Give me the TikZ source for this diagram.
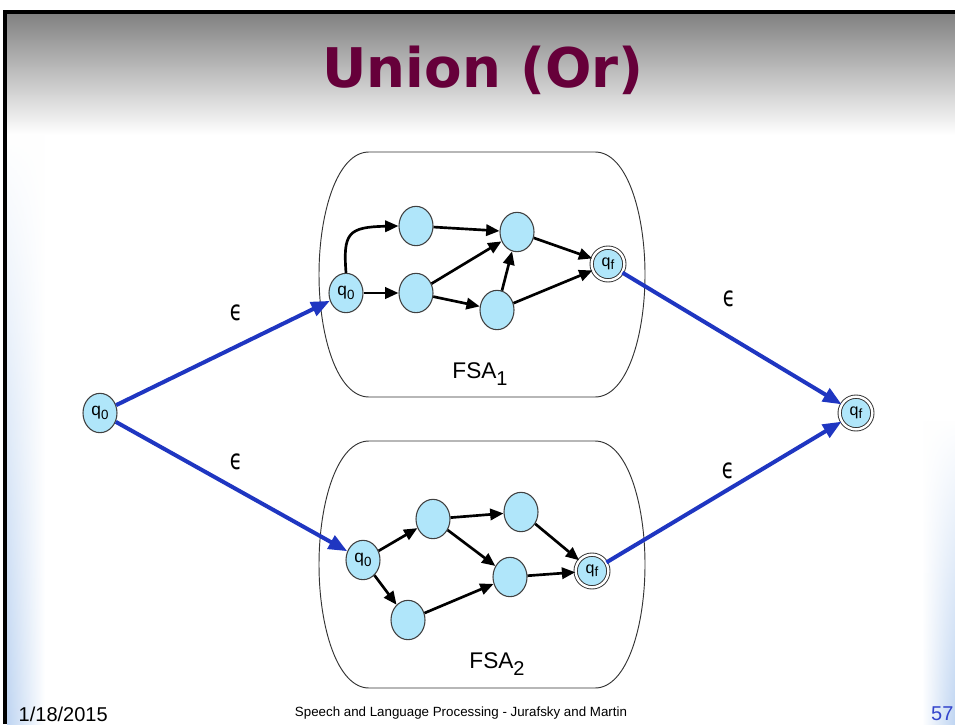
\documentclass[tikz,border=0pt]{standalone}
\usepackage{fontspec}
\setmainfont{Liberation Sans}
\newfontfamily\djv{DejaVu Sans}
\usetikzlibrary{arrows.meta,shapes.geometric,fadings}
\definecolor{nodefill}{HTML}{B0E6FA}
\definecolor{blueedge}{HTML}{1F36C1}
\definecolor{titlecol}{HTML}{66003A}
\definecolor{lbl}{HTML}{BFD5F2}
\definecolor{pgnum}{HTML}{3344CC}
\newcommand{\qlab}[1]{q\raisebox{-2.5pt}{\fontsize{10}{10}\selectfont #1}}
\newcommand{\fsalab}[1]{FSA\raisebox{-5pt}{\fontsize{15}{15}\selectfont #1}}
\tikzset{
  st/.style={ellipse, draw=black!75, fill=nodefill, line width=0.8pt,
    minimum width=25.5pt, minimum height=29.5pt, inner sep=0pt,
    font=\fontsize{13}{13}\selectfont},
  fin/.style={circle, draw=black!80, double=white, double distance=1.8pt,
    fill=nodefill, line width=0.7pt, minimum size=24.5pt, inner sep=0pt,
    font=\fontsize{12}{12}\selectfont},
  blk/.style={line width=2pt, -{Triangle[length=10pt,width=8.5pt]}},
  blu/.style={line width=3pt, blueedge, -{Triangle[length=14pt,width=11pt]}},
  eps/.style={font=\djv\fontsize{21}{21}\selectfont},
  fsalbl/.style={font=\fontsize{17}{17}\selectfont},
  box/.style={draw=black!80, line width=0.7pt}
}
% left, right, top, bottom; sides are half ellipses of horizontal radius 48
\newcommand{\fsabox}[4]{%
  \draw[box] ({#1+50},#3) -- ({#2-50},#3)
    .. controls ({#2-50+32},#3) and (#2,{#3+0.25*(#4-#3)}) .. (#2,{(#3+#4)/2})
    .. controls (#2,{#4-0.25*(#4-#3)}) and ({#2-50+32},#4) .. ({#2-50},#4)
    -- ({#1+50},#4)
    .. controls ({#1+50-32},#4) and (#1,{#4-0.25*(#4-#3)}) .. (#1,{(#3+#4)/2})
    .. controls (#1,{#3+0.25*(#4-#3)}) and ({#1+50-32},#3) .. ({#1+50},#3) -- cycle;}
\begin{document}
\begin{tikzpicture}[x=0.75pt,y=-0.75pt]
\useasboundingbox (0,0) rectangle (955,724);
\fill[white] (0,0) rectangle (955,724);
% background shadings
\shade[top color=black!50, bottom color=white] (6,12) rectangle (955,135);
\shade[left color=lbl, right color=white, path fading=north] (7,135) rectangle (45,724);
\shade[left color=white, right color=lbl, path fading=north] (922,420) rectangle (955,724);
% frame
\draw[line width=2.5pt] (5,724) -- (5,12) -- (956,12);
% title
\node[font=\djv\bfseries\fontsize{41}{41}\selectfont, text=titlecol] (title) at (483,70) {Union (Or)};
% boxes
\fsabox{319}{645}{152}{397}
\fsabox{319}{645}{441}{688}
\node[fsalbl] (lab1) at (480,374) {\fsalab{1}};
\node[fsalbl] (lab2) at (497,664) {\fsalab{2}};
% FSA1 nodes
\node[st] (f1q0) at (346,293) {\qlab{0}};
\node[st] (f1a) at (416,226) {};
\node[st] (f1b) at (416,293) {};
\node[st] (f1c) at (517,232) {};
\node[st] (f1d) at (497,310) {};
\node[fin] (f1qf) at (608,264) {\qlab{f}};
\draw[blk] (f1q0.north) .. controls (343,233) and (348,227) .. (f1a.west);
\draw[blk] (f1q0) -- (f1b);
\draw[blk] (f1a) -- (f1c);
\draw[blk] (f1b) -- (f1c);
\draw[blk] (f1b) -- (f1d);
\draw[blk] (f1d) -- (f1c);
\draw[blk] (f1c) -- (f1qf);
\draw[blk] (f1d) -- (f1qf);
% FSA2 nodes
\node[st] (f2q0) at (363,560) {\qlab{0}};
\node[st] (f2a) at (433,519) {};
\node[st] (f2b) at (408,620) {};
\node[st] (f2c) at (521,512) {};
\node[st] (f2d) at (510,577) {};
\node[fin] (f2qf) at (592,571) {\qlab{f}};
\draw[blk] (f2q0) -- (f2a);
\draw[blk] (f2q0) -- (f2b);
\draw[blk] (f2a) -- (f2c);
\draw[blk] (f2a) -- (f2d);
\draw[blk] (f2b) -- (f2d);
\draw[blk] (f2c) -- (f2qf);
\draw[blk] (f2d) -- (f2qf);
% outer nodes
\node[st] (q0) at (100,413) {\qlab{0}};
\node[fin] (qf) at (856,413) {\qlab{f}};
\draw[blu] (q0) -- (f1q0);
\draw[blu] (q0) -- (f2q0);
\draw[blu] (f1qf) -- (qf);
\draw[blu] (f2qf) -- (qf);
\node[eps] (e1) at (236,313) {\scalebox{0.72}[1]{ϵ}};
\node[eps] (e2) at (236,462) {\scalebox{0.72}[1]{ϵ}};
\node[eps] (e3) at (729,299) {\scalebox{0.72}[1]{ϵ}};
\node[eps] (e4) at (728,471) {\scalebox{0.72}[1]{ϵ}};
% footer
\node[anchor=west, font=\fontsize{15}{15}\selectfont] (date) at (14,714) {1/18/2015};
\node[font=\fontsize{10}{10}\selectfont] (foot) at (461,713) {Speech and Language Processing - Jurafsky and Martin};
\node[anchor=east, font=\fontsize{15}{15}\selectfont, text=pgnum, inner sep=1pt] (pg) at (955,714) {57};
\end{tikzpicture}
\end{document}
